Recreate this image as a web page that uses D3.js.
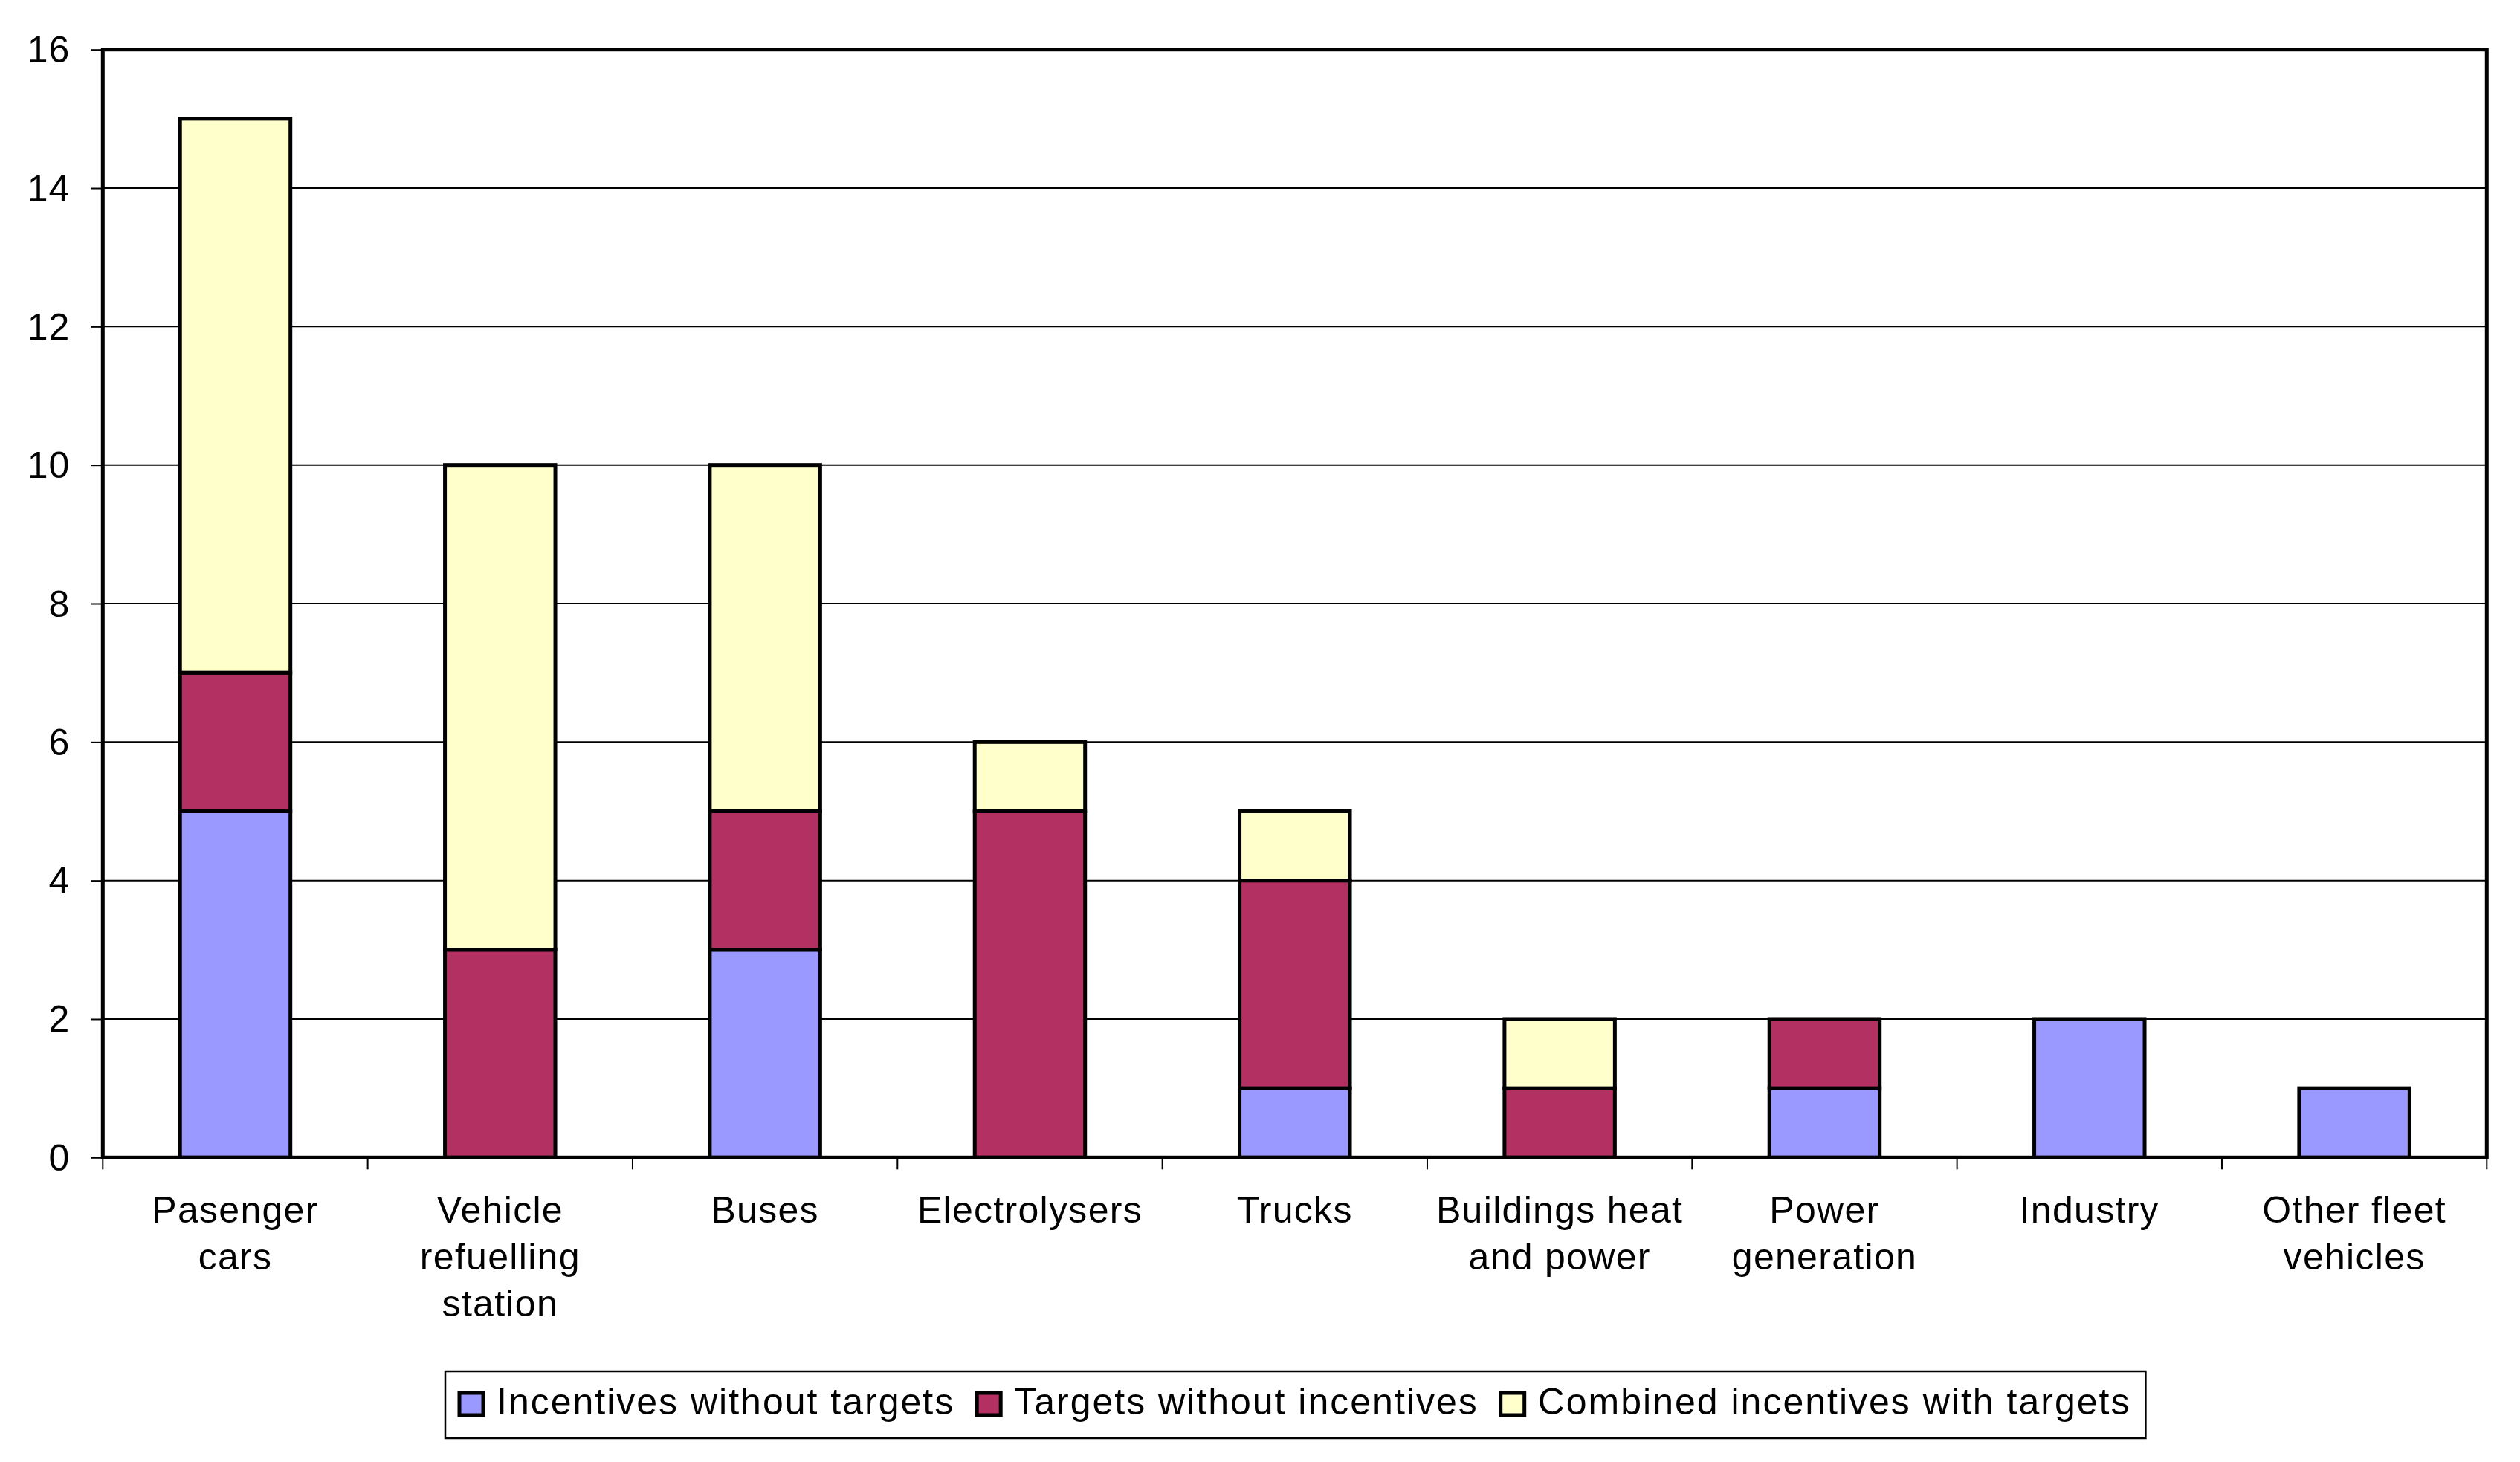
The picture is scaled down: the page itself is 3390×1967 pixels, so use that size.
<!DOCTYPE html>
<html>
<head>
<meta charset="utf-8">
<script src="https://cdn.jsdelivr.net/npm/d3@7"></script>
<style>
  html, body { margin: 0; padding: 0; background: #fff; }
  svg { display: block; }
  text { font-family: "Liberation Sans", Arial, sans-serif; fill: #000; }
</style>
</head>
<body>
<svg id="chart" width="3390" height="1967"></svg>
<script>
// ---- data ----
const categories = ["Pasenger cars", "Vehicle refuelling station", "Buses", "Electrolysers", "Trucks",
  "Buildings heat and power", "Power generation", "Industry", "Other fleet vehicles"];
const categoryLines = [["Pasenger", "cars"], ["Vehicle", "refuelling", "station"], ["Buses"], ["Electrolysers"],
  ["Trucks"], ["Buildings heat", "and power"], ["Power", "generation"], ["Industry"], ["Other fleet", "vehicles"]];
const seriesNames = ["Incentives without targets", "Targets without incentives", "Combined incentives with targets"];
const incentivesWithoutTargets = [5, 0, 3, 0, 1, 0, 1, 2, 1];
const targetsWithoutIncentives = [2, 3, 2, 5, 3, 1, 1, 0, 0];
const combinedIncentivesWithTargets = [8, 7, 5, 1, 1, 1, 0, 0, 0];
const yTicks = [0, 2, 4, 6, 8, 10, 12, 14, 16];
const colors = ["#9999FF", "#B23062", "#FFFFCC"];

// ---- layout ----
const svg = d3.select("#chart");
const plot = { left: 138.3, right: 3345.3, top: 66.7, bottom: 1557.3 };
const fontSize = 50;

const x = d3.scaleBand().domain(categories).range([plot.left, plot.right]).paddingInner(0).paddingOuter(0);
const y = d3.scaleLinear().domain([0, 16]).range([plot.bottom, plot.top]);
const barW = x.bandwidth() / 2.4;

const table = categories.map((c, i) => ({
  category: c,
  [seriesNames[0]]: incentivesWithoutTargets[i],
  [seriesNames[1]]: targetsWithoutIncentives[i],
  [seriesNames[2]]: combinedIncentivesWithTargets[i]
}));
const stacked = d3.stack().keys(seriesNames)(table);

// gridlines
svg.append("g").selectAll("line").data(yTicks.filter(t => t > 0 && t < 16)).join("line")
  .attr("x1", plot.left).attr("x2", plot.right)
  .attr("y1", d => y(d)).attr("y2", d => y(d))
  .attr("stroke", "#000").attr("stroke-width", 2);

// y axis ticks + labels
const yAxis = d3.axisLeft(y).tickValues(yTicks).tickSize(16).tickPadding(28).tickFormat(d3.format("d"));
const gy = svg.append("g").attr("transform", `translate(${plot.left},0)`).call(yAxis);
gy.select(".domain").remove();
gy.selectAll(".tick line").attr("stroke", "#000").attr("stroke-width", 2);
gy.selectAll(".tick text").attr("font-size", fontSize).attr("font-family", "Liberation Sans, Arial, sans-serif")
  .attr("fill", "#000").attr("dy", "0.34em").attr("letter-spacing", 1);

// x axis ticks at category boundaries
const boundaries = categories.map(c => x(c)).concat([plot.right]);
svg.append("g").selectAll("line").data(boundaries).join("line")
  .attr("x1", d => d).attr("x2", d => d)
  .attr("y1", plot.bottom).attr("y2", plot.bottom + 16)
  .attr("stroke", "#000").attr("stroke-width", 2);

// bars
svg.append("g").selectAll("g").data(stacked).join("g")
  .attr("fill", (d, i) => colors[i])
  .selectAll("rect").data(d => d.filter(s => s[1] - s[0] > 0).map(s => ({ s, cat: s.data.category }))).join("rect")
  .attr("x", d => x(d.cat) + (x.bandwidth() - barW) / 2)
  .attr("width", barW)
  .attr("y", d => y(d.s[1]))
  .attr("height", d => y(d.s[0]) - y(d.s[1]))
  .attr("stroke", "#000").attr("stroke-width", 5);

// plot frame
svg.append("rect")
  .attr("x", plot.left).attr("y", plot.top)
  .attr("width", plot.right - plot.left).attr("height", plot.bottom - plot.top)
  .attr("fill", "none").attr("stroke", "#000").attr("stroke-width", 5);

// category labels
const lab = svg.append("g").selectAll("text").data(categories).join("text")
  .attr("text-anchor", "middle").attr("font-size", fontSize).attr("letter-spacing", 1.3)
  .attr("x", d => x(d) + x.bandwidth() / 2).attr("y", 1645);
lab.selectAll("tspan").data((d, i) => categoryLines[i]).join("tspan")
  .attr("x", function () { return this.parentNode.getAttribute("x"); })
  .attr("dy", (d, i) => i === 0 ? 0 : 63)
  .text(d => d);

// legend
const legend = svg.append("g");
const legBox = legend.append("rect");
let lx = 618;
let lastEnd = lx;
const legTop = 1845, legBottom = 1935;
seriesNames.forEach((name, i) => {
  legend.append("rect").attr("x", lx).attr("y", 1874).attr("width", 32).attr("height", 30)
    .attr("fill", colors[i]).attr("stroke", "#000").attr("stroke-width", 5);
  const t = legend.append("text").attr("x", lx + 50).attr("y", 1902.7).attr("font-size", fontSize)
    .attr("letter-spacing", 2).text(name);
  lastEnd = lx + 50 + t.node().getComputedTextLength();
  lx = lastEnd + 30;
});
legBox.attr("x", 599).attr("y", legTop).attr("width", lastEnd + 20 - 599).attr("height", legBottom - legTop)
  .attr("fill", "#fff").attr("stroke", "#000").attr("stroke-width", 2.5);
</script>
</body>
</html>
